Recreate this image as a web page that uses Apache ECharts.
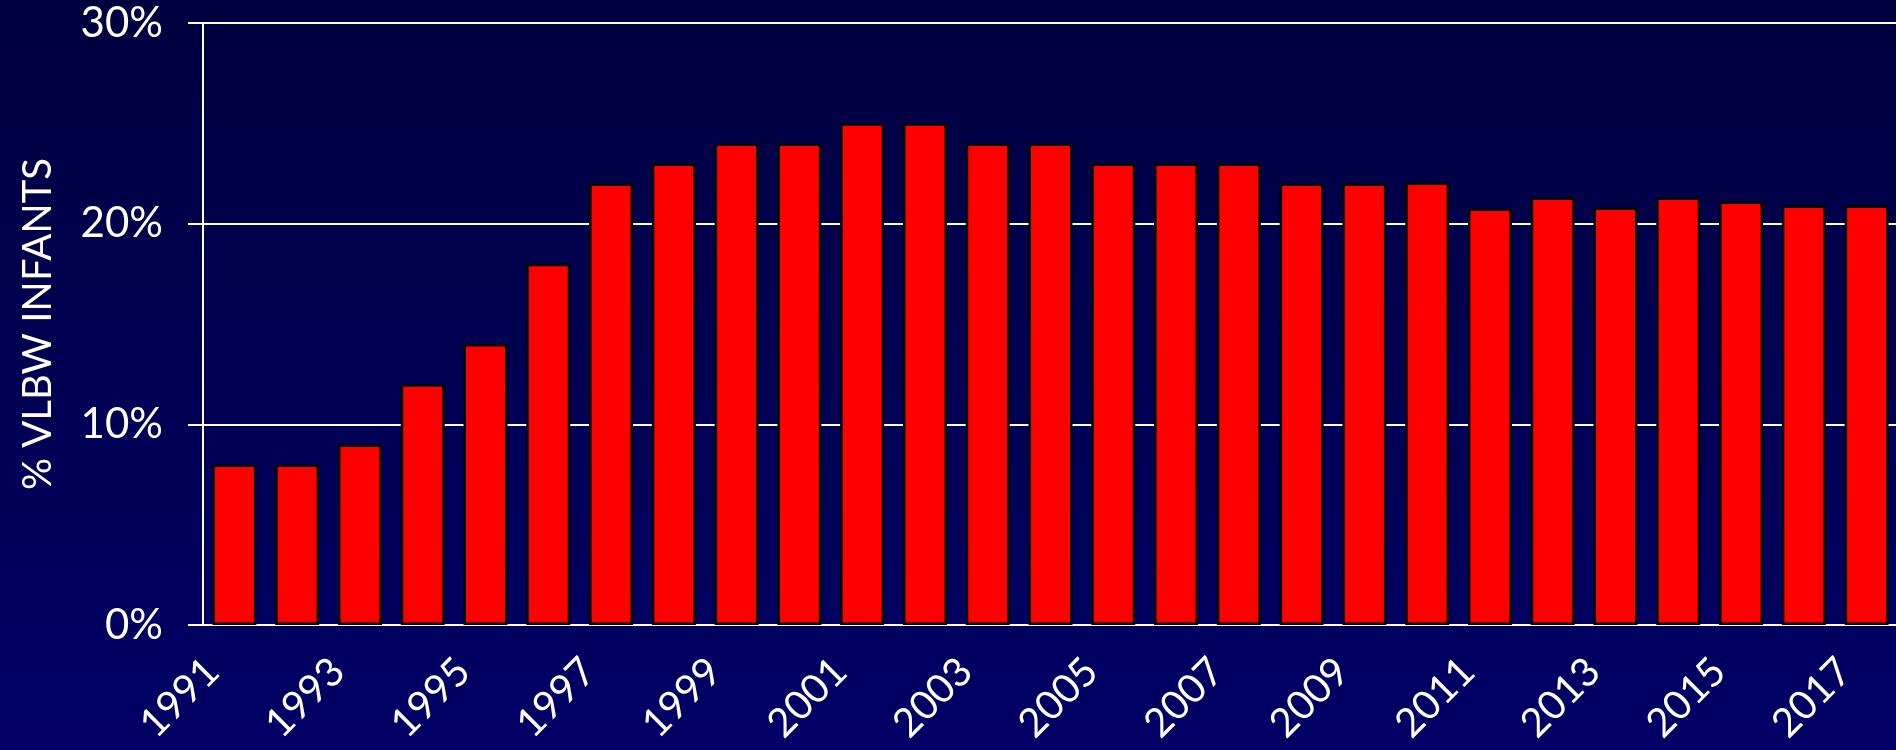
<!DOCTYPE html>
<html>
<head>
<meta charset="utf-8">
<script src="https://cdn.jsdelivr.net/npm/echarts@6/dist/echarts.min.js"></script>
<style>
  html, body { margin: 0; padding: 0; }
  #chart { width: 1896px; height: 750px; }
</style>
</head>
<body>
<div id="chart"></div>
<script>
const years = ['1991','1992','1993','1994','1995','1996','1997','1998','1999','2000',
  '2001','2002','2003','2004','2005','2006','2007','2008','2009','2010',
  '2011','2012','2013','2014','2015','2016','2017']
const pctVlbw = [8, 8, 9, 12, 14, 18, 22, 23, 24, 24,
  25, 25, 24, 24, 23, 23, 23, 22, 22, 22.05,
  20.75, 21.3, 20.8, 21.3, 21.1, 20.9, 20.9]
const yTicks = [0, 10, 20, 30]

function bar(dom){
    const myChart = echarts.init(dom)
    const font = 'Lato'
    const option = {
        backgroundColor: {
            type: 'linear', x: 0, y: 0, x2: 0, y2: 1,
            colorStops: [
                {offset: 0, color: '#00003f'},
                {offset: 1, color: '#000066'}
            ]
        },
        animation: false,
        grid: {
            left: 203,
            top: 23,
            right: -2,
            bottom: 125,
            outerBoundsMode: 'none'
        },
        xAxis: {
            type: 'category',
            data: years,
            axisLine: {lineStyle: {color: '#ffffff', width: 2}},
            axisTick: {length: 13, lineStyle: {color: '#ffffff', width: 2}},
            axisLabel: {
                interval: 1,
                rotate: 45,
                margin: 18,
                padding: [0, 31, 0, 0],
                color: '#ffffff',
                fontFamily: font,
                fontSize: 40
            }
        },
        yAxis: {
            type: 'value',
            min: yTicks[0],
            max: yTicks[yTicks.length - 1],
            interval: 10,
            name: '% VLBW INFANTS',
            nameLocation: 'middle',
            nameRotate: 90,
            nameGap: 145,
            nameTextStyle: {color: '#ffffff', fontFamily: font, fontSize: 40},
            axisLine: {show: true, lineStyle: {color: '#ffffff', width: 2}},
            axisTick: {show: true, length: 15, lineStyle: {color: '#ffffff', width: 2}},
            axisLabel: {
                margin: 40,
                color: '#ffffff',
                fontFamily: font,
                fontSize: 42,
                formatter: '{value}%'
            },
            splitLine: {lineStyle: {color: '#ffffff', width: 2}}
        },
        series: [
            {
                name: 'VLBW',
                type: 'bar',
                data: pctVlbw,
                barWidth: 44,
                itemStyle: {
                    color: '#ff0000',
                    borderColor: '#000000',
                    borderWidth: 2.5
                }
            }
        ]
    }
    option && myChart.setOption(option)
    window.onresize = () => {
        myChart.resize()
    }
    return myChart
}

bar(document.getElementById('chart'))
</script>
</body>
</html>
